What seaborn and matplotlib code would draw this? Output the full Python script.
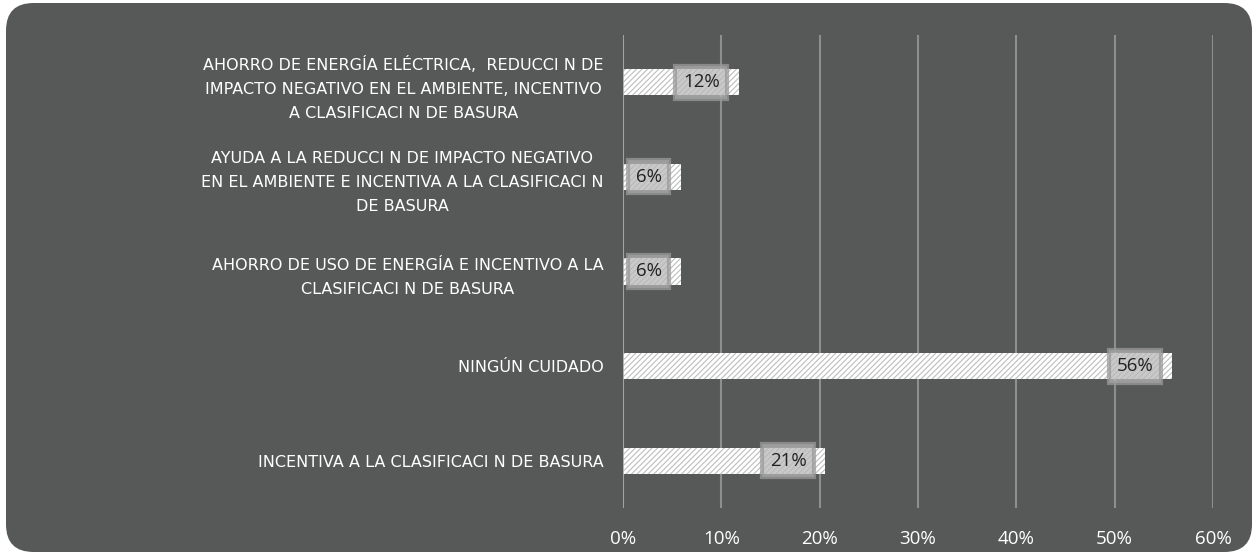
import matplotlib
matplotlib.use("Agg")
import matplotlib.pyplot as plt
import seaborn as sns
import pandas as pd
from matplotlib.patches import FancyBboxPatch
from matplotlib.ticker import PercentFormatter

categories = [
    "AHORRO DE ENERGÍA ELÉCTRICA,  REDUCCI N DE\nIMPACTO NEGATIVO EN EL AMBIENTE, INCENTIVO\nA CLASIFICACI N DE BASURA",
    "AYUDA A LA REDUCCI N DE IMPACTO NEGATIVO\nEN EL AMBIENTE E INCENTIVA A LA CLASIFICACI N\nDE BASURA",
    "AHORRO DE USO DE ENERGÍA E INCENTIVO A LA\nCLASIFICACI N DE BASURA",
    "NINGÚN CUIDADO",
    "INCENTIVA A LA CLASIFICACI N DE BASURA",
]
values = [0.1176, 0.0588, 0.0588, 0.5588, 0.2059]
value_labels = ["12%", "6%", "6%", "56%", "21%"]
x_ticks = [0, 0.1, 0.2, 0.3, 0.4, 0.5, 0.6]

BG = "#575958"
sns.set_theme(style="white")
plt.rcParams["font.family"] = ["Open Sans", "DejaVu Sans"]
plt.rcParams["hatch.linewidth"] = 0.8

W, H = 1253, 559
fig = plt.figure(figsize=(W / 100, H / 100), dpi=100)
fig.patch.set_facecolor("white")

# rounded dark panel
panel = FancyBboxPatch((6 / W, 7 / H), (1252 - 6) / W, (556 - 7) / H,
                       boxstyle="round,pad=0,rounding_size=0.022",
                       transform=fig.transFigure, facecolor=BG, edgecolor="none",
                       mutation_aspect=W / H, zorder=-5)
fig.patches.append(panel)

left, right = 623 / W, 1213 / W
top, bottom = 1 - 35 / H, 1 - 508 / H
ax = fig.add_axes([left, bottom, right - left, top - bottom])
ax.set_facecolor("none")
ax.set_zorder(2)

df = pd.DataFrame({"cat": categories, "val": values})
sns.barplot(data=df, y="cat", x="val", orient="h", ax=ax, width=0.275,
            color="white", saturation=1)
for p in ax.patches:
    p.set_facecolor("white")
    p.set_edgecolor("#bdbdbd")
    p.set_linewidth(0)
    p.set_hatch("//////")
    p.set_zorder(3)

ax.set_xlim(0, 0.6)
ax.set_ylim(4.5, -0.5)
ax.set_xticks(x_ticks)
ax.xaxis.set_major_formatter(PercentFormatter(1.0, decimals=0))
ax.grid(axis="x", color="#8e8e8e", linewidth=1.5)
ax.set_axisbelow(True)
for s in ax.spines.values():
    s.set_visible(False)
ax.axvline(0, color="#a8a8a8", linewidth=1.2, zorder=4)
ax.tick_params(axis="x", colors="white", labelsize=13.5, length=0, pad=16)
ax.tick_params(axis="y", colors="white", length=0, pad=14)
for lab in ax.get_yticklabels():
    lab.set_multialignment("center")
    lab.set_color("white")
    lab.set_family(["DejaVu Sans"])
    lab.set_fontsize(11.5)
    lab.set_linespacing(1.75)
ax.set_xlabel("")
ax.set_ylabel("")

for i, (v, t) in enumerate(zip(values, value_labels)):
    ax.annotate(t, xy=(v, i), xytext=(-19, 0), textcoords="offset pixels",
                ha="right", va="center", fontsize=13.5, color="#222222", zorder=6,
                bbox=dict(boxstyle="square,pad=0.4", facecolor="#b8b8b8",
                          edgecolor="#9a9a9a", linewidth=3, alpha=0.75))

fig.savefig("out.png", dpi=100, facecolor="white")
